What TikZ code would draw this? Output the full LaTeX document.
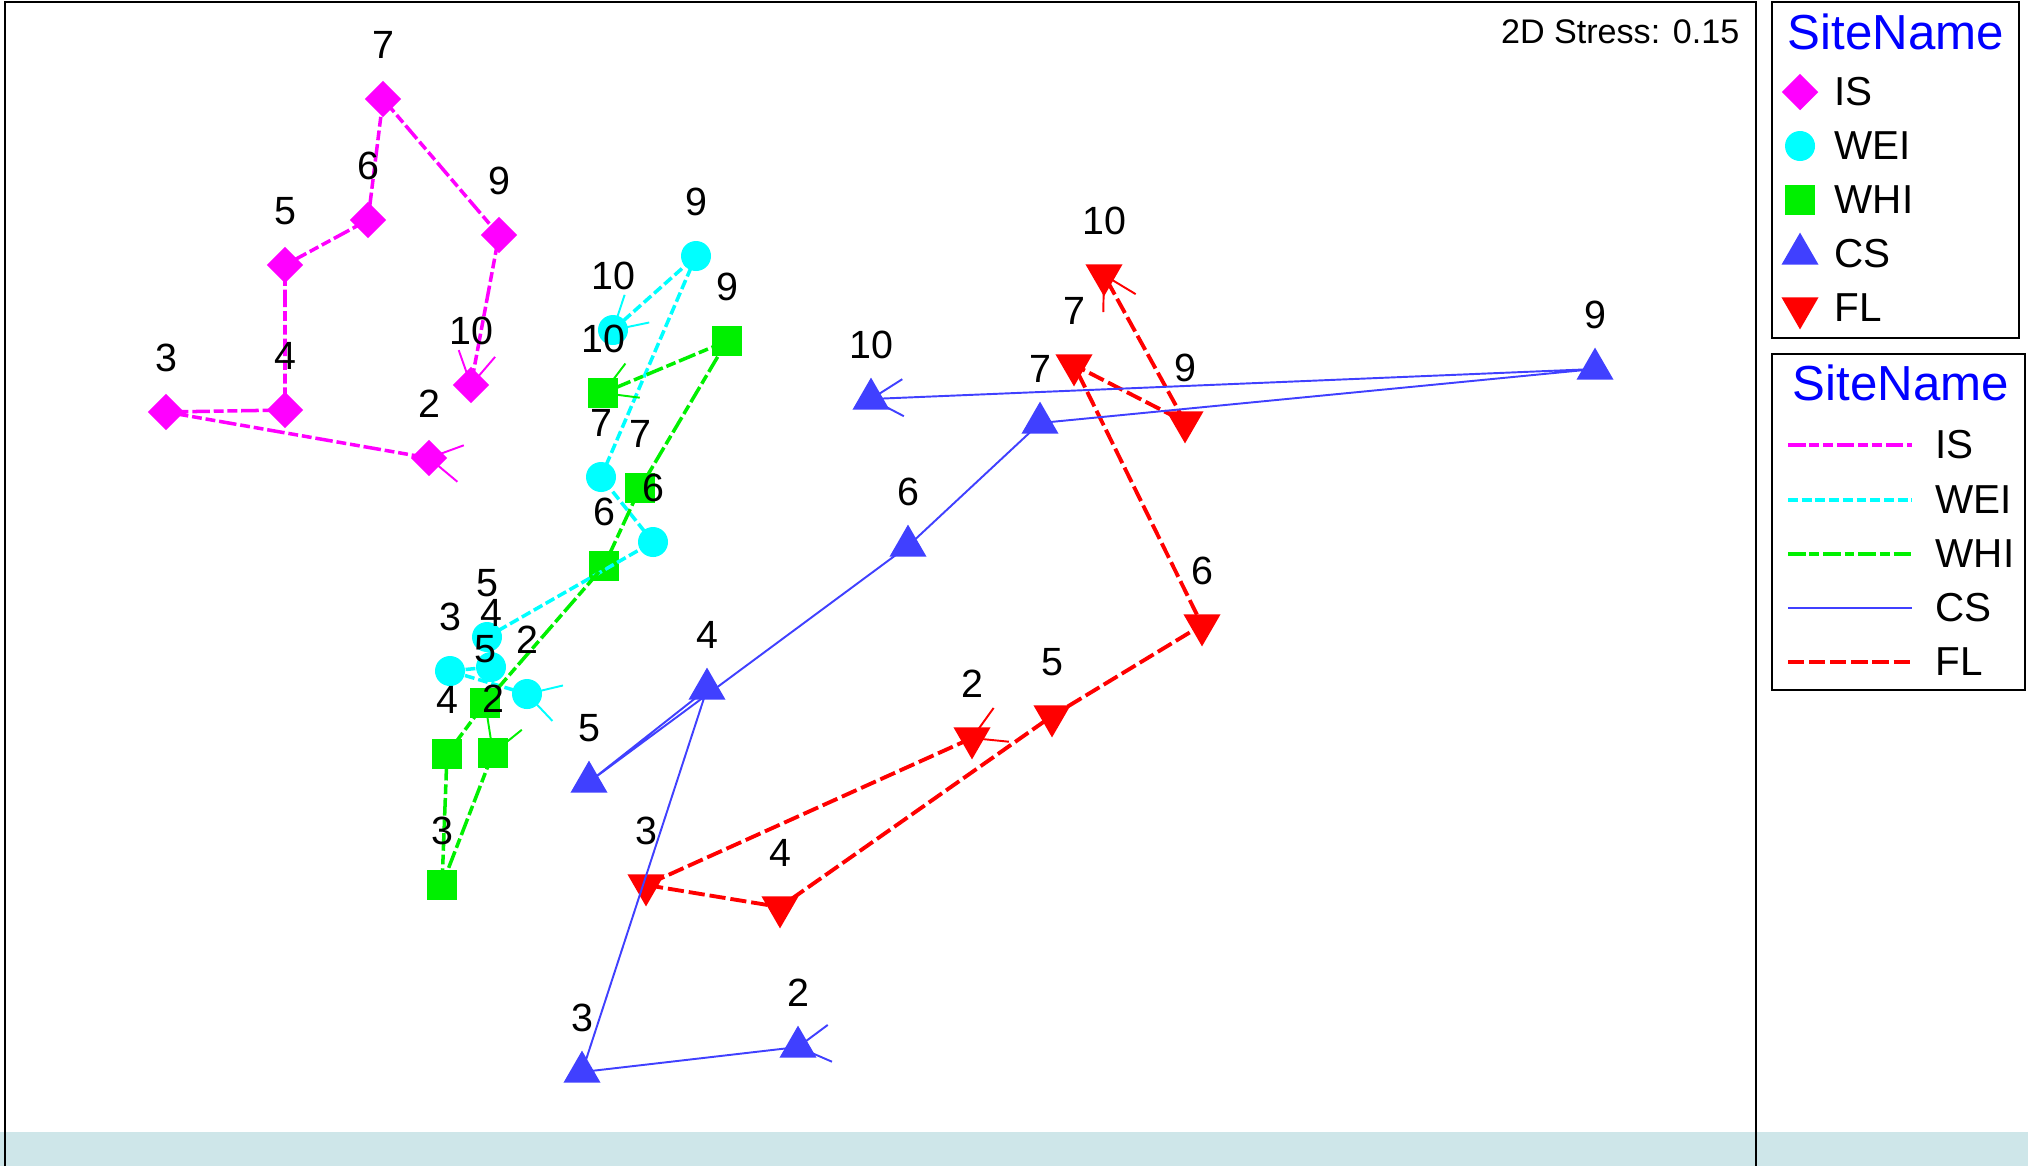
\documentclass[tikz,border=0pt]{standalone}
\usepackage{fontspec}
\setmainfont{Liberation Sans}
\usetikzlibrary{shapes.geometric,calc}

\definecolor{ismag}{RGB}{255,0,255}
\definecolor{weicyan}{RGB}{0,255,255}
\definecolor{whigreen}{RGB}{0,240,0}
\definecolor{csblue}{RGB}{64,64,255}
\definecolor{flred}{RGB}{255,0,0}
\definecolor{titleblue}{RGB}{0,0,255}
\definecolor{bandgrey}{RGB}{206,230,233}

\newcommand{\numfont}{\fontsize{11.2pt}{13pt}\selectfont}
\newcommand{\legfont}{\fontsize{11.5pt}{13pt}\selectfont}
\newcommand{\titlefont}{\fontsize{14pt}{16pt}\selectfont}
\newcommand{\stressfont}{\fontsize{9.7pt}{11pt}\selectfont}

\tikzset{
  ismark/.style={diamond, fill=ismag, inner sep=0pt, minimum width=0.37cm, minimum height=0.37cm},
  weimark/.style={circle, fill=weicyan, inner sep=0pt, minimum size=0.30cm},
  whimark/.style={rectangle, fill=whigreen, inner sep=0pt, minimum size=0.30cm},
  csmark/.style={regular polygon, regular polygon sides=3, fill=csblue, inner sep=0pt, minimum size=0.428cm},
  flmark/.style={csmark, fill=flred, shape border rotate=180},
  isline/.style={draw=ismag, line width=1pt, dash pattern=on 5pt off 1.1pt on 2.8pt off 1.1pt on 2.8pt off 1.1pt},
  weiline/.style={draw=weicyan, line width=1pt, dash pattern=on 2.8pt off 1.1pt},
  whiline/.style={draw=whigreen, line width=1pt, dash pattern=on 5pt off 1.1pt on 2.8pt off 1.1pt},
  csline/.style={draw=csblue, line width=0.55pt},
  flline/.style={draw=flred, line width=1.1pt, dash pattern=on 4.6pt off 1.4pt},
  tickline/.style={draw=#1, line width=0.55pt},
  numlab/.style={font=\numfont, inner sep=0pt},
  legtext/.style={font=\legfont, inner sep=0pt, anchor=west},
  legtitle/.style={font=\titlefont, text=titleblue, inner sep=0pt}
}

% barbs at the first and the last sample of a trajectory
\newcommand{\firstbarbs}[3]{%
  \draw[tickline=#1] ($(#2.center)!0.37cm!150:(#3.center)$) -- (#2.center) -- ($(#2.center)!0.37cm!210:(#3.center)$);}
\newcommand{\lastbarbs}[3]{%
  \draw[tickline=#1] ($(#2.center)!0.37cm!30:(#3.center)$) -- (#2.center) -- ($(#2.center)!0.37cm!-30:(#3.center)$);}

\begin{document}
\begin{tikzpicture}[x=0.01cm, y=-0.01cm]
    \useasboundingbox (0,0) rectangle (2028,1166);
    \fill[bandgrey] (0,1132) rectangle (2028,1166);
    \draw[line width=0.5pt] (5,1166) -- (5,2) -- (1756,2) -- (1756,1166);
    \draw[line width=0.5pt] (1772,2) rectangle (2019,338);
    \draw[line width=0.5pt] (1772,354) rectangle (2025,690);

    \node[anchor=east, font=\stressfont, inner sep=0pt] (stress) at (1740,32) {2D Stress: 0.15};

    % IS
    \node[ismark] (is2) at (429,458) {};
    \node[ismark] (is3) at (166,412) {};
    \node[ismark] (is4) at (285,410) {};
    \node[ismark] (is5) at (285,265) {};
    \node[ismark] (is6) at (368,220) {};
    \node[ismark] (is7) at (383,99) {};
    \node[ismark] (is9) at (499,235) {};
    \node[ismark] (is10) at (471,385) {};

    % WEI
    \node[weimark] (wei2) at (527,694) {};
    \node[weimark] (wei3) at (450,671) {};
    \node[weimark] (wei4) at (491,667) {};
    \node[weimark] (wei5) at (487,637) {};
    \node[weimark] (wei6) at (653,542) {};
    \node[weimark] (wei7) at (601,477) {};
    \node[weimark] (wei9) at (696,256) {};
    \node[weimark] (wei10) at (613,330) {};

    % WHI
    \node[whimark] (whi2) at (493,753) {};
    \node[whimark] (whi3) at (442,885) {};
    \node[whimark] (whi4) at (447,754) {};
    \node[whimark] (whi5) at (485,703) {};
    \node[whimark] (whi6) at (604,566) {};
    \node[whimark] (whi7) at (640,488) {};
    \node[whimark] (whi9) at (727,341) {};
    \node[whimark] (whi10) at (603,393) {};

    % FL
    \node[flmark] (fl2) at (972,738) {};
    \node[flmark] (fl3) at (646,885) {};
    \node[flmark] (fl4) at (780,907) {};
    \node[flmark] (fl5) at (1052,716) {};
    \node[flmark] (fl6) at (1202,625) {};
    \node[flmark] (fl7) at (1074,365) {};
    \node[flmark] (fl9) at (1185,422) {};
    \node[flmark] (fl10) at (1104,275) {};

    % CS
    \node[csmark] (cs2) at (798,1047) {};
    \node[csmark] (cs3) at (582,1072) {};
    \node[csmark] (cs4) at (707,689) {};
    \node[csmark] (cs5) at (589,782) {};
    \node[csmark] (cs6) at (908,546) {};
    \node[csmark] (cs7) at (1040,423) {};
    \node[csmark] (cs9) at (1595,369) {};
    \node[csmark] (cs10) at (871,399) {};

    % trajectories
    \draw[isline] (is2.center) -- (is3.center) -- (is4.center) -- (is5.center) -- (is6.center) -- (is7.center) -- (is9.center) -- (is10.center);
    \draw[weiline] (wei2.center) -- (wei3.center) -- (wei4.center) -- (wei5.center) -- (wei6.center) -- (wei7.center) -- (wei9.center) -- (wei10.center);
    \draw[whiline] (whi2.center) -- (whi3.center) -- (whi4.center) -- (whi5.center) -- (whi6.center) -- (whi7.center) -- (whi9.center) -- (whi10.center);
    \draw[flline] (fl2.center) -- (fl3.center) -- (fl4.center) -- (fl5.center) -- (fl6.center) -- (fl7.center) -- (fl9.center) -- (fl10.center);
    \draw[csline] (cs2.center) -- (cs3.center) -- (cs4.center) -- (cs5.center) -- (cs6.center) -- (cs7.center) -- (cs9.center) -- (cs10.center);

    \firstbarbs{ismag}{is2}{is3}
    \lastbarbs{ismag}{is10}{is9}
    \firstbarbs{weicyan}{wei2}{wei3}
    \lastbarbs{weicyan}{wei10}{wei9}
    \firstbarbs{whigreen}{whi2}{whi3}
    \lastbarbs{whigreen}{whi10}{whi9}
    \firstbarbs{flred}{fl2}{fl3}
    \lastbarbs{flred}{fl10}{fl9}
    \firstbarbs{csblue}{cs2}{cs3}
    \lastbarbs{csblue}{cs10}{cs9}

    % sample numbers
    \node[numlab] (is2lab) at (429,404) {2};
    \node[numlab] (is3lab) at (166,358) {3};
    \node[numlab] (is4lab) at (285,356) {4};
    \node[numlab] (is5lab) at (285,211) {5};
    \node[numlab] (is6lab) at (368,166) {6};
    \node[numlab] (is7lab) at (383,45) {7};
    \node[numlab] (is9lab) at (499,181) {9};
    \node[numlab] (is10lab) at (471,331) {10};

    \node[numlab] (wei2lab) at (527,640) {2};
    \node[numlab] (wei3lab) at (450,617) {3};
    \node[numlab] (wei4lab) at (491,613) {4};
    \node[numlab] (wei5lab) at (487,583) {5};
    \node[numlab] (wei6lab) at (653,488) {6};
    \node[numlab] (wei7lab) at (601,423) {7};
    \node[numlab] (wei9lab) at (696,202) {9};
    \node[numlab] (wei10lab) at (613,276) {10};

    \node[numlab] (whi2lab) at (493,699) {2};
    \node[numlab] (whi3lab) at (442,831) {3};
    \node[numlab] (whi4lab) at (447,700) {4};
    \node[numlab] (whi5lab) at (485,649) {5};
    \node[numlab] (whi6lab) at (604,512) {6};
    \node[numlab] (whi7lab) at (640,434) {7};
    \node[numlab] (whi9lab) at (727,287) {9};
    \node[numlab] (whi10lab) at (603,339) {10};

    \node[numlab] (fl2lab) at (972,684) {2};
    \node[numlab] (fl3lab) at (646,831) {3};
    \node[numlab] (fl4lab) at (780,853) {4};
    \node[numlab] (fl5lab) at (1052,662) {5};
    \node[numlab] (fl6lab) at (1202,571) {6};
    \node[numlab] (fl7lab) at (1074,311) {7};
    \node[numlab] (fl9lab) at (1185,368) {9};
    \node[numlab] (fl10lab) at (1104,221) {10};

    \node[numlab] (cs2lab) at (798,993) {2};
    \node[numlab] (cs3lab) at (582,1018) {3};
    \node[numlab] (cs4lab) at (707,635) {4};
    \node[numlab] (cs5lab) at (589,728) {5};
    \node[numlab] (cs6lab) at (908,492) {6};
    \node[numlab] (cs7lab) at (1040,369) {7};
    \node[numlab] (cs9lab) at (1595,315) {9};
    \node[numlab] (cs10lab) at (871,345) {10};

    % legend of symbols
    \node[legtitle] (symtitle) at (1896,32) {SiteName};
    \node[ismark] (symis) at (1800,92) {};
    \node[weimark] (symwei) at (1800,146) {};
    \node[whimark] (symwhi) at (1800,200) {};
    \node[csmark] (symcs) at (1800,254) {};
    \node[flmark] (symfl) at (1800,308) {};
    \node[legtext] (symistxt) at (1834,92) {IS};
    \node[legtext] (symweitxt) at (1834,146) {WEI};
    \node[legtext] (symwhitxt) at (1834,200) {WHI};
    \node[legtext] (symcstxt) at (1834,254) {CS};
    \node[legtext] (symfltxt) at (1834,308) {FL};

    % legend of lines
    \node[legtitle] (lintitle) at (1901,383) {SiteName};
    \node[legtext] (linistxt) at (1935,445) {IS};
    \node[legtext] (linweitxt) at (1935,500) {WEI};
    \node[legtext] (linwhitxt) at (1935,554) {WHI};
    \node[legtext] (lincstxt) at (1935,608) {CS};
    \node[legtext] (linfltxt) at (1935,662) {FL};
    \draw[isline] ($(linistxt.west)+(-147,0)$) -- ++(124,0);
    \draw[weiline] ($(linweitxt.west)+(-147,0)$) -- ++(124,0);
    \draw[whiline] ($(linwhitxt.west)+(-147,0)$) -- ++(124,0);
    \draw[csline] ($(lincstxt.west)+(-147,0)$) -- ++(124,0);
    \draw[flline] ($(linfltxt.west)+(-147,0)$) -- ++(124,0);
\end{tikzpicture}
\end{document}
